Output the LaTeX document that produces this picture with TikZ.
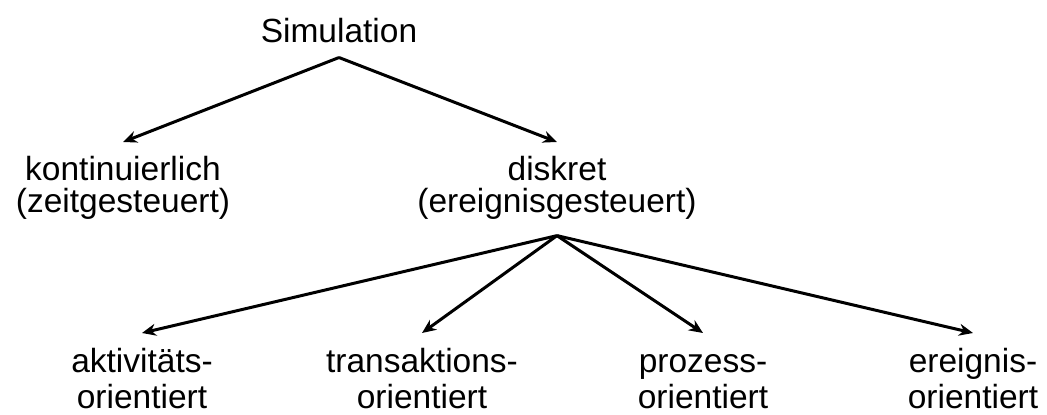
\documentclass[tikz,border=0pt]{standalone}
\usepackage{fontspec}
\setmainfont{Liberation Sans}
\usetikzlibrary{arrows.meta,calc}
\begin{document}
\begin{tikzpicture}[x=1pt,y=1pt,
  lbl/.style={align=center, inner xsep=0pt, inner ysep=14pt, anchor=north},
  toplbl/.style={lbl, font=\fontsize{33.5}{32}\selectfont},
  botlbl/.style={lbl, inner ysep=15pt, font=\fontsize{33.5}{36.5}\selectfont},
  arr/.style={line width=3pt, -{Stealth[length=14pt,width=12pt]}}]
\useasboundingbox (0,0) rectangle (1047,-415);
\node[font=\fontsize{33.5}{40}\selectfont, anchor=base, inner xsep=0pt, inner ysep=15pt] (sim) at (339,-42) {Simulation};
\node[toplbl] (kont) at (123,-142) {\vphantom{k}kontinuierlich\\(zeitgesteuert)};
\node[toplbl] (disk) at (557,-142) {\vphantom{k}diskret\\(ereignisgesteuert)};
\coordinate (dapex) at ([yshift=-2pt]disk.south);
\node[botlbl] (akt) at (142,-333) {\vphantom{k}aktivitäts-\\orientiert};
\node[botlbl] (tra) at (422,-333) {\vphantom{k}transaktions-\\orientiert};
\node[botlbl] (pro) at (703,-333) {\vphantom{k}prozess-\\orientiert};
\node[botlbl] (ere) at (973,-333) {\vphantom{k}ereignis-\\orientiert};
\draw[arr] (sim.south) -- (kont.north);
\draw[arr] (sim.south) -- (disk.north);
\draw[arr] (dapex) -- (akt.north);
\draw[arr] (dapex) -- (tra.north);
\draw[arr] (dapex) -- (pro.north);
\draw[arr] (dapex) -- (ere.north);
\end{tikzpicture}
\end{document}
